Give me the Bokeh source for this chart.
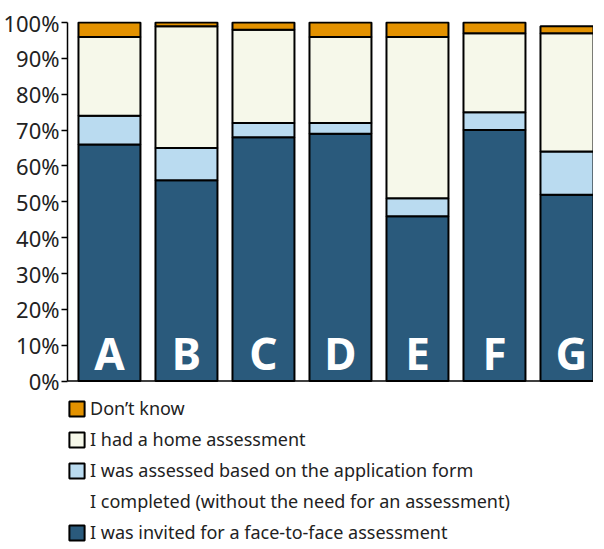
from bokeh.plotting import figure
from bokeh.models import Range1d, FixedTicker, Legend, LegendItem, ColumnDataSource, Span
from bokeh.core.properties import value
from bokeh.embed import file_html
from bokeh.resources import INLINE

groups = ["A", "B", "C", "D", "E", "F", "G"]
face_to_face = [66, 56, 68, 69, 46, 70, 52]
application_form = [8, 9, 4, 3, 5, 5, 12]
home_assessment = [22, 34, 26, 24, 45, 22, 33]
dont_know = [4, 1, 2, 4, 4, 3, 2]

y_ticks = [0, 10, 20, 30, 40, 50, 60, 70, 80, 90, 100]
y_tick_labels = ["0%", "10%", "20%", "30%", "40%", "50%", "60%", "70%", "80%", "90%", "100%"]

series_names = ["face_to_face", "application_form", "home_assessment", "dont_know"]
label_face = "I was invited for a face-to-face assessment"
label_app_line1 = "I was assessed based on the application form"
label_app_line2 = "I completed (without the need for an assessment)"
label_home = "I had a home assessment"
label_dk = "Don\u2019t know"
series_colors = ["#2A5A7C", "#BADBF0", "#F6F8EA", "#E39200"]

FONT = "Noto Sans"

src = ColumnDataSource(dict(
    x=list(range(len(groups))),
    group=groups,
    face_to_face=face_to_face,
    application_form=application_form,
    home_assessment=home_assessment,
    dont_know=dont_know,
    zero=[0] * len(groups),
))

p = figure(frame_width=526, frame_height=522, output_backend="svg", toolbar_location=None,
           x_range=Range1d(-0.545, 6.286), y_range=Range1d(-45.32, 100.3),
           min_border_left=0, min_border_right=0, min_border_top=21, min_border_bottom=0)
p.outline_line_color = None
p.xgrid.visible = False
p.ygrid.visible = False
p.xaxis.visible = False

renderers = p.vbar_stack(series_names, x="x", width=0.805, source=src,
                         fill_color=series_colors, line_color="black", line_width=2)

p.add_layout(Span(location=0, dimension="width", line_color="black", line_width=1.5))

p.text(x="x", y="zero", text="group", source=src, text_color="white",
       text_font=value(FONT), text_font_size="44px", text_font_style="bold",
       text_align="center", text_baseline="bottom", y_offset=2)

# invisible renderer used only to carry the second line of a legend label
blank = p.scatter(x=[], y=[], size=0, fill_alpha=0, line_alpha=0)

yax = p.yaxis[0]
yax.bounds = (0, 100)
yax.ticker = FixedTicker(ticks=y_ticks)
yax.major_label_overrides = {t: l for t, l in zip(y_ticks, y_tick_labels)}
yax.major_label_text_font = FONT
yax.major_label_text_font_size = "22px"
yax.major_label_text_color = "#222222"
yax.major_label_standoff = 2
yax.major_tick_out = 6
yax.major_tick_in = 0
yax.minor_tick_line_color = None
yax.axis_line_width = 1.5
yax.major_tick_line_width = 1.5
yax.axis_line_color = "black"

items = [
    LegendItem(label=label_dk, renderers=[renderers[3]]),
    LegendItem(label=label_home, renderers=[renderers[2]]),
    LegendItem(label=label_app_line1, renderers=[renderers[1]]),
    LegendItem(label=label_app_line2, renderers=[blank]),
    LegendItem(label=label_face, renderers=[renderers[0]]),
]
legend = Legend(items=items, location=(0, -1), orientation="vertical",
                glyph_width=19, glyph_height=19, label_text_font=FONT,
                label_text_font_size="18px", label_text_color="#222222",
                label_standoff=4, spacing=7, padding=0, margin=0,
                label_height=20, border_line_color=None, background_fill_alpha=0)
p.add_layout(legend, "center")

open("out.html", "w").write(file_html(p, INLINE))
